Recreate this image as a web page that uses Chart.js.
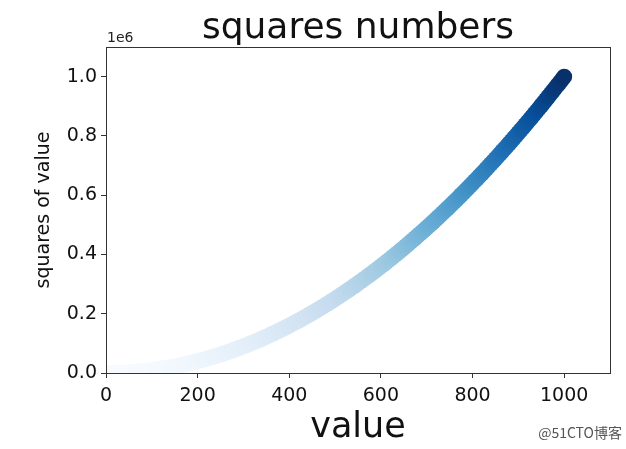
<!DOCTYPE html>
<html>
<head>
<meta charset="utf-8">
<script src="https://cdn.jsdelivr.net/npm/chart.js@4"></script>
<style>
  html, body { margin: 0; padding: 0; background: #fff; }
  #wrap { width: 626px; height: 449px; }
</style>
</head>
<body>
<div id="wrap"><canvas id="chart1"></canvas></div>
<script>
// values: value -> square of value
const xValues = [1,
  5, 10, 15, 20, 25, 30, 35, 40, 45, 50,
  55, 60, 65, 70, 75, 80, 85, 90, 95, 100,
  105, 110, 115, 120, 125, 130, 135, 140, 145, 150,
  155, 160, 165, 170, 175, 180, 185, 190, 195, 200,
  205, 210, 215, 220, 225, 230, 235, 240, 245, 250,
  255, 260, 265, 270, 275, 280, 285, 290, 295, 300,
  305, 310, 315, 320, 325, 330, 335, 340, 345, 350,
  355, 360, 365, 370, 375, 380, 385, 390, 395, 400,
  405, 410, 415, 420, 425, 430, 435, 440, 445, 450,
  455, 460, 465, 470, 475, 480, 485, 490, 495, 500,
  505, 510, 515, 520, 525, 530, 535, 540, 545, 550,
  555, 560, 565, 570, 575, 580, 585, 590, 595, 600,
  605, 610, 615, 620, 625, 630, 635, 640, 645, 650,
  655, 660, 665, 670, 675, 680, 685, 690, 695, 700,
  705, 710, 715, 720, 725, 730, 735, 740, 745, 750,
  755, 760, 765, 770, 775, 780, 785, 790, 795, 800,
  805, 810, 815, 820, 825, 830, 835, 840, 845, 850,
  855, 860, 865, 870, 875, 880, 885, 890, 895, 900,
  905, 910, 915, 920, 925, 930, 935, 940, 945, 950,
  955, 960, 965, 970, 975, 980, 985, 990, 995, 1000];
const yValues = [1,
  25, 100, 225, 400, 625, 900, 1225, 1600, 2025, 2500,
  3025, 3600, 4225, 4900, 5625, 6400, 7225, 8100, 9025, 10000,
  11025, 12100, 13225, 14400, 15625, 16900, 18225, 19600, 21025, 22500,
  24025, 25600, 27225, 28900, 30625, 32400, 34225, 36100, 38025, 40000,
  42025, 44100, 46225, 48400, 50625, 52900, 55225, 57600, 60025, 62500,
  65025, 67600, 70225, 72900, 75625, 78400, 81225, 84100, 87025, 90000,
  93025, 96100, 99225, 102400, 105625, 108900, 112225, 115600, 119025, 122500,
  126025, 129600, 133225, 136900, 140625, 144400, 148225, 152100, 156025, 160000,
  164025, 168100, 172225, 176400, 180625, 184900, 189225, 193600, 198025, 202500,
  207025, 211600, 216225, 220900, 225625, 230400, 235225, 240100, 245025, 250000,
  255025, 260100, 265225, 270400, 275625, 280900, 286225, 291600, 297025, 302500,
  308025, 313600, 319225, 324900, 330625, 336400, 342225, 348100, 354025, 360000,
  366025, 372100, 378225, 384400, 390625, 396900, 403225, 409600, 416025, 422500,
  429025, 435600, 442225, 448900, 455625, 462400, 469225, 476100, 483025, 490000,
  497025, 504100, 511225, 518400, 525625, 532900, 540225, 547600, 555025, 562500,
  570025, 577600, 585225, 592900, 600625, 608400, 616225, 624100, 632025, 640000,
  648025, 656100, 664225, 672400, 680625, 688900, 697225, 705600, 714025, 722500,
  731025, 739600, 748225, 756900, 765625, 774400, 783225, 792100, 801025, 810000,
  819025, 828100, 837225, 846400, 855625, 864900, 874225, 883600, 893025, 902500,
  912025, 921600, 931225, 940900, 950625, 960400, 970225, 980100, 990025, 1000000];

const xTicks = [0, 200, 400, 600, 800, 1000];
const xTickLabels = ["0", "200", "400", "600", "800", "1000"];
const yTicks = [0, 200000, 400000, 600000, 800000, 1000000];
const yTickLabels = ["0.0", "0.2", "0.4", "0.6", "0.8", "1.0"];

// Blues colormap stops
const blues = ["#f7fbff", "#deebf7", "#c6dbef", "#9ecae1", "#6baed6", "#4292c6", "#2171b5", "#08519c", "#08306b"];

function hexRgb(h) {
  return [parseInt(h.substr(1, 2), 16), parseInt(h.substr(3, 2), 16), parseInt(h.substr(5, 2), 16)];
}
function bluesColor(t) {
  t = Math.max(0, Math.min(1, t));
  const pos = t * (blues.length - 1);
  const i = Math.min(Math.floor(pos), blues.length - 2);
  const f = pos - i;
  const a = hexRgb(blues[i]), b = hexRgb(blues[i + 1]);
  const c = a.map((v, k) => Math.round(v + (b[k] - v) * f));
  return "rgb(" + c.join(",") + ")";
}

const points = xValues.map((x, i) => ({x: x, y: yValues[i]}));
const yMax = Math.max(...yValues);
const pointColors = yValues.map(v => bluesColor(v / yMax));

const FONT = "'DejaVu Sans', sans-serif";

const extras = {
  id: "extras",
  afterDraw(chart) {
    const ctx = chart.ctx;
    const a = chart.chartArea;
    ctx.save();
    // frame
    ctx.strokeStyle = "#333";
    ctx.lineWidth = 1;
    ctx.strokeRect(Math.round(a.left) + 0.5, Math.round(a.top) + 0.5,
      Math.round(a.right - a.left), Math.round(a.bottom - a.top));
    // title
    ctx.fillStyle = "#111";
    ctx.textAlign = "center";
    ctx.textBaseline = "alphabetic";
    ctx.font = "36px " + FONT;
    ctx.fillText("squares numbers", (a.left + a.right) / 2, 38);
    // offset text
    ctx.textAlign = "left";
    ctx.font = "14px " + FONT;
    ctx.fillStyle = "#222";
    ctx.fillText("1e6", a.left + 1, 42);
    // watermark
    ctx.textAlign = "right";
    ctx.font = "14px 'Noto Sans CJK SC', " + FONT;
    ctx.fillStyle = "#555";
    ctx.fillText("@51CTO博客", 622, 438);
    ctx.restore();
  }
};

new Chart(document.getElementById("chart1").getContext("2d"), {
  type: "scatter",
  data: {
    datasets: [{
      data: points,
      pointRadius: 8,
      pointHoverRadius: 8,
      pointBorderWidth: 0,
      pointBackgroundColor: pointColors,
      pointBorderColor: pointColors
    }]
  },
  options: {
    responsive: true,
    maintainAspectRatio: false,
    animation: false,
    events: [],
    layout: { padding: { top: 47, right: 16, left: 0, bottom: 0 } },
    plugins: { legend: { display: false }, tooltip: { enabled: false } },
    scales: {
      x: {
        type: "linear",
        min: 0,
        max: 1100,
        afterFit(scale) { scale.height = 76; },
        afterBuildTicks(scale) { scale.ticks = xTicks.map(v => ({value: v})); },
        grid: { drawOnChartArea: false, drawTicks: true, tickLength: 5, color: "#333" },
        border: { display: true, color: "#333" },
        ticks: {
          color: "#111",
          font: { family: FONT, size: 19 },
          padding: 7,
          maxRotation: 0,
          callback: (v) => xTickLabels[xTicks.indexOf(v)]
        },
        title: { display: true, text: "value", color: "#111", font: { family: FONT, size: 35 }, padding: { top: 0, bottom: 0 } }
      },
      y: {
        type: "linear",
        min: 0,
        max: 1100000,
        afterFit(scale) { scale.width = 106; },
        afterBuildTicks(scale) { scale.ticks = yTicks.map(v => ({value: v})); },
        grid: { drawOnChartArea: false, drawTicks: true, tickLength: 5, color: "#333" },
        border: { display: true, color: "#333" },
        ticks: {
          color: "#111",
          font: { family: FONT, size: 19 },
          padding: 4,
          callback: (v) => yTickLabels[yTicks.indexOf(v)]
        },
        title: { display: true, text: "squares of value", color: "#111", font: { family: FONT, size: 19 }, padding: { top: 33, bottom: 0 } }
      }
    }
  },
  plugins: [extras]
});
</script>
</body>
</html>
